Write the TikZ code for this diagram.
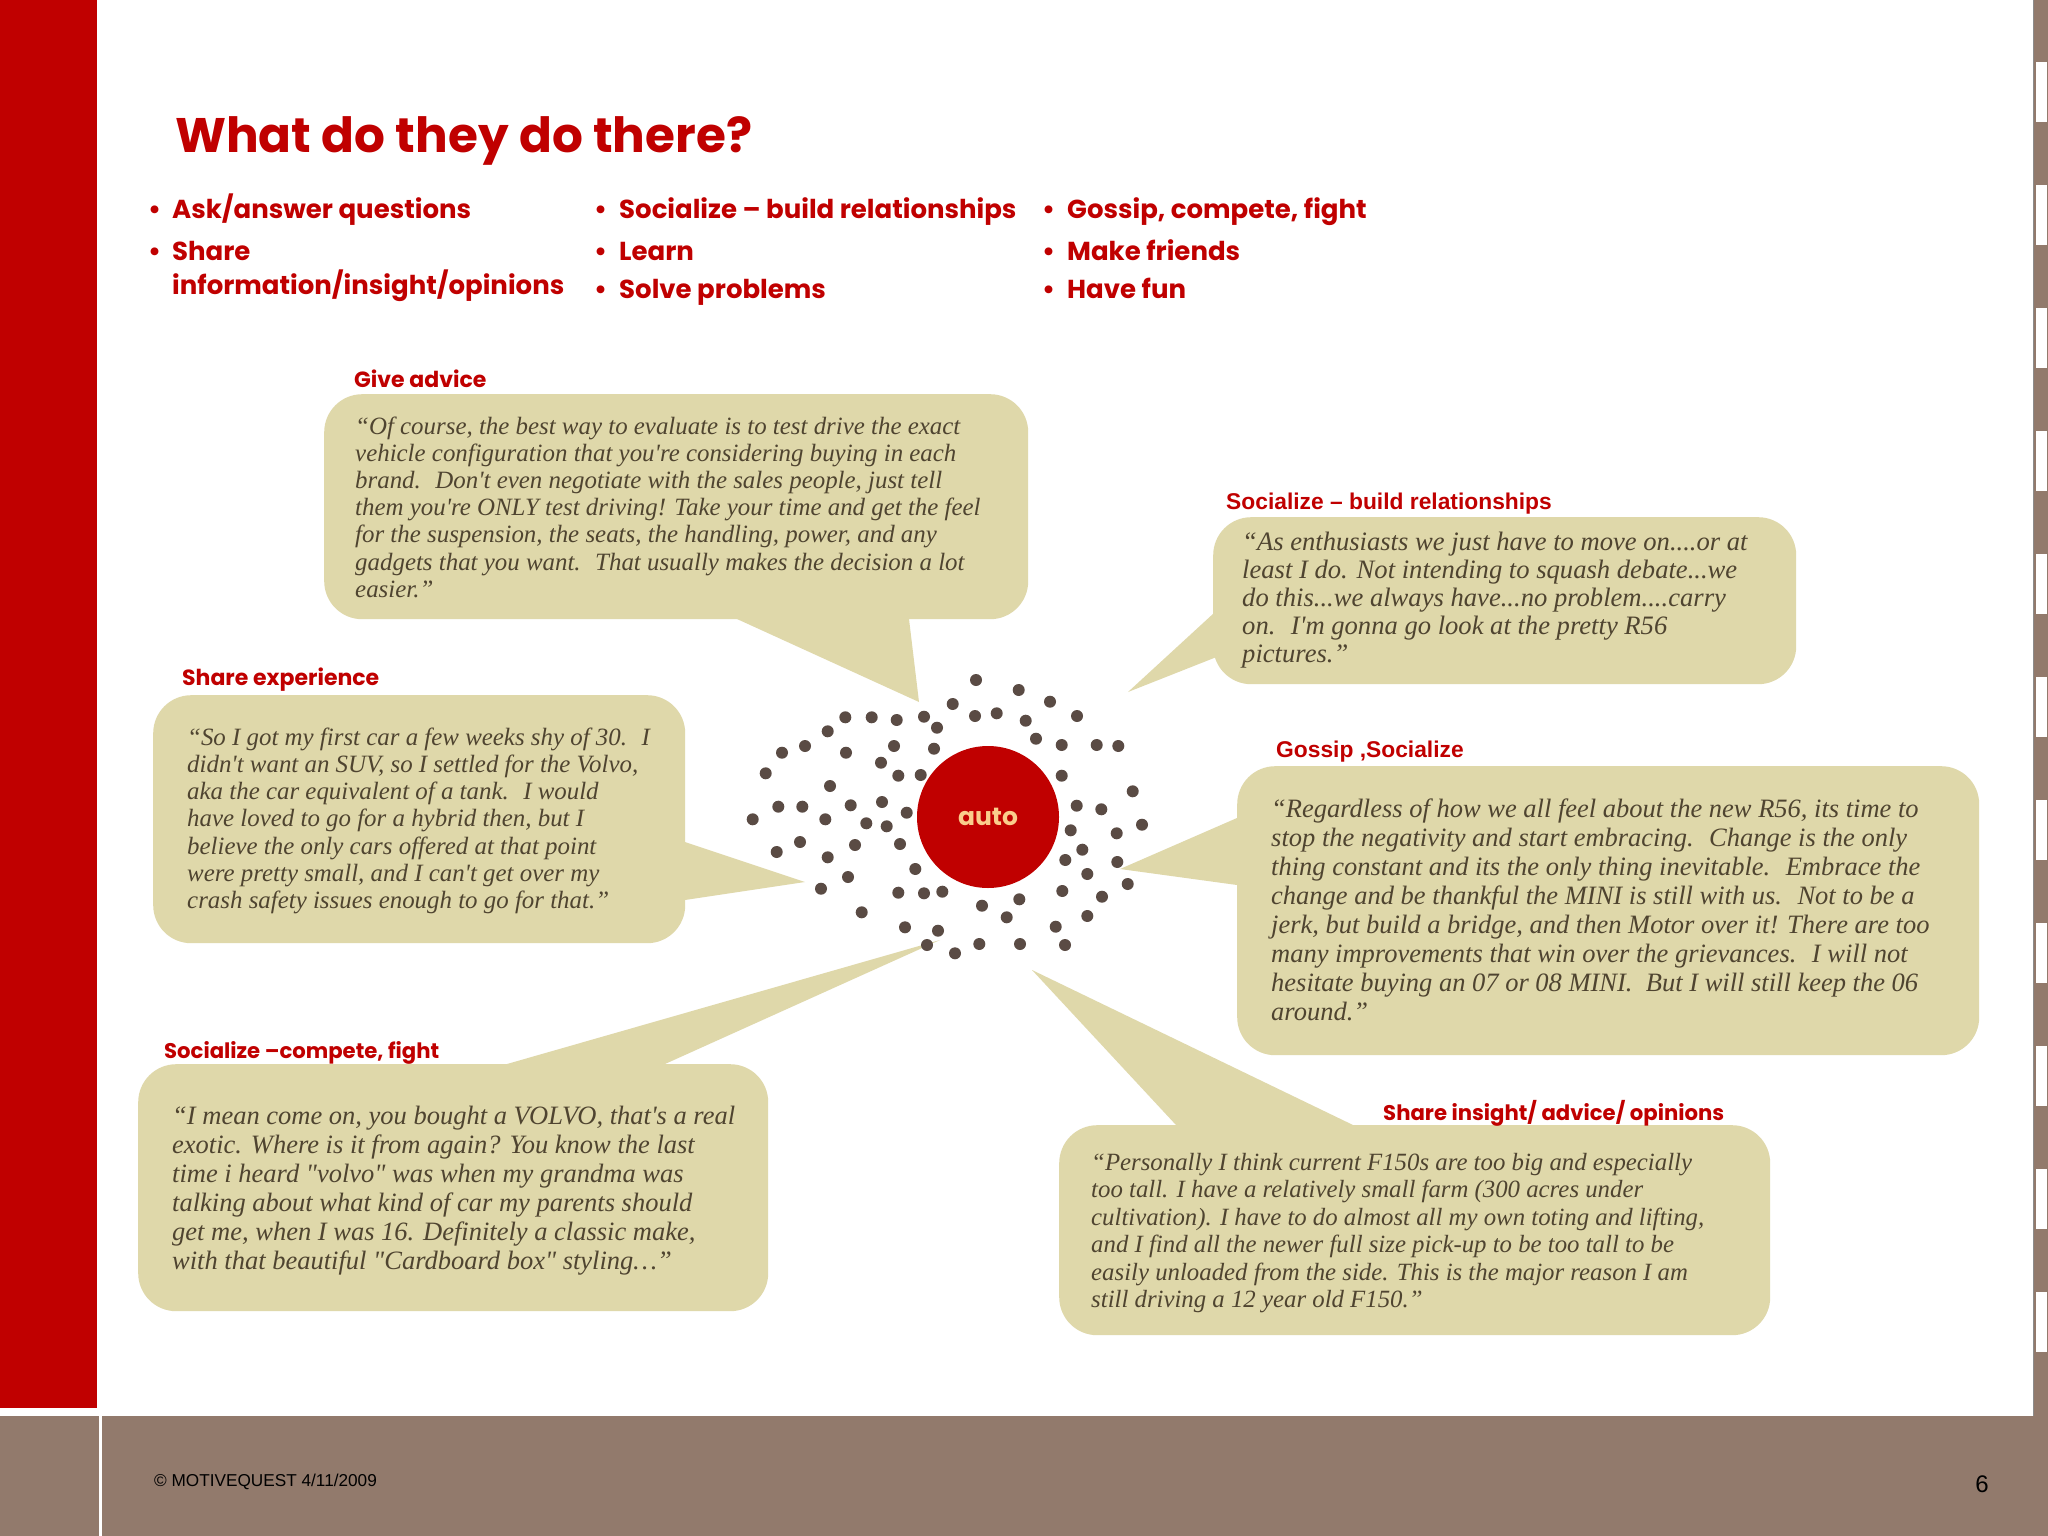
\documentclass[tikz,border=0pt]{standalone}
\usepackage{fontspec}
\usetikzlibrary{calc}
\setmainfont{Liberation Sans}
\newfontfamily\gothic{Poppins}
\newfontfamily\arialf{Liberation Sans}
\newfontfamily\qfont{Liberation Serif}
\definecolor{redc}{RGB}{192,0,0}
\definecolor{beige}{RGB}{223,216,170}
\definecolor{qcol}{RGB}{79,68,48}
\definecolor{dotc}{RGB}{90,75,68}
\definecolor{brownc}{RGB}{146,122,108}
\definecolor{autoc}{RGB}{250,205,140}
\tikzset{
  callout/.style={fill=beige, rounded corners=38pt, inner sep=0pt, anchor=north west, draw=none},
  quote/.style={anchor=base west, inner sep=0pt, text=qcol},
  lbl/.style={anchor=base west, inner sep=0pt, text=redc},
  bul/.style={anchor=base west, inner sep=0pt, text=redc, font=\gothic\bfseries\fontsize{26}{31}\selectfont},
  dotn/.style={circle, fill=dotc, inner sep=0pt, minimum size=12pt, draw=none},
  ptr/.style={fill=beige},
}
\newcommand{\qtext}[3]{\fontsize{#1}{#2}\selectfont\begin{tabular}[t]{@{}l@{}}#3\end{tabular}}
\begin{document}
\begin{tikzpicture}[x=1pt,y=-1pt]
\useasboundingbox (0,0) rectangle (2048,1536);
\fill[white] (0,0) rectangle (2048,1536);
% frame
\fill[redc] (0,0) rectangle (97,1408);
\fill[brownc] (0,1416) rectangle (2048,1536);
\fill[white] (98.5,1416) rectangle (102,1536);
\fill[brownc] (2033,0) rectangle (2048,1416);
\draw[black!45, line width=0.8pt] (2033.4,0) -- (2033.4,1416);
\foreach \k in {0,...,10} { \fill[white] (2036,62+123*\k) rectangle (2047,122+123*\k); }
\node[anchor=base west, inner sep=0pt, font=\arialf\fontsize{17.2}{20}\selectfont] (copy) at (154,1486) {© MOTIVEQUEST 4/11/2009};
\node[anchor=base east, inner sep=0pt, font=\arialf\fontsize{24}{28}\selectfont] (pnum) at (1989,1492) {6};

% title and bullets
\node[anchor=base west, inner sep=0pt, text=redc, font=\gothic\bfseries\fontsize{48.5}{58}\selectfont] (title) at (175,153) {What do they do there?};
\node[bul] (b1d) at (148,218) {•};
\node[bul] (b1) at (172,218) {Ask/answer questions};
\node[bul] (b2d) at (148,260) {•};
\node[bul] (b2) at (172,260) {Share};
\node[bul] (b2b) at (172,294) {information/insight/opinions};
\node[bul] (b3d) at (594,218) {•};
\node[bul] (b3) at (619,218) {Socialize – build relationships};
\node[bul] (b4d) at (594,260) {•};
\node[bul] (b4) at (619,260) {Learn};
\node[bul] (b5d) at (594,298) {•};
\node[bul] (b5) at (619,298) {Solve problems};
\node[bul] (b6d) at (1042,218) {•};
\node[bul] (b6) at (1067,218) {Gossip, compete, fight};
\node[bul] (b7d) at (1042,260) {•};
\node[bul] (b7) at (1067,260) {Make friends};
\node[bul] (b8d) at (1042,298) {•};
\node[bul] (b8) at (1067,298) {Have fun};

% tips
\coordinate (tipA) at (919,702);
\coordinate (tipB) at (1128,692);
\coordinate (tipC) at (805,882);
\coordinate (tipD) at (1120,869);
\coordinate (tipE) at (940,940);
\coordinate (tipF) at (1032,970);

% pointers (bases on the box edges, extended into the box)
\fill[ptr] ($(tipA)!1.2!(737,619)$) -- (tipA) -- ($(tipA)!1.2!(909,619)$) -- cycle;
\fill[ptr] ($(tipB)!1.25!(1214,613)$) -- (tipB) -- ($(tipB)!1.25!(1214,658)$) -- cycle;
\fill[ptr] ($(tipC)!1.2!(685,842)$) -- (tipC) -- ($(tipC)!1.2!(685,900)$) -- cycle;
\fill[ptr] ($(tipD)!1.2!(1237,818)$) -- (tipD) -- ($(tipD)!1.2!(1237,885)$) -- cycle;
\fill[ptr] ($(tipE)!1.1!(507,1064)$) -- (tipE) -- ($(tipE)!1.1!(665,1064)$) -- cycle;
\fill[ptr] ($(tipF)!1.1!(1176,1125)$) -- (tipF) -- ($(tipF)!1.1!(1353,1125)$) -- cycle;

% boxes
\node[callout, minimum width=704pt, minimum height=225pt] (boxA) at (324,394) {};
\node[callout, minimum width=583pt, minimum height=167pt] (boxB) at (1213,517) {};
\node[callout, minimum width=532pt, minimum height=248pt] (boxC) at (153,695) {};
\node[callout, minimum width=742pt, minimum height=289pt] (boxD) at (1237,766) {};
\node[callout, minimum width=630pt, minimum height=247pt] (boxE) at (138,1064) {};
\node[callout, minimum width=711pt, minimum height=210pt] (boxF) at (1059,1125) {};

% labels
\node[lbl, font=\gothic\bfseries\fontsize{22}{25}\selectfont] (labA) at (354,387) {Give advice};
\node[lbl, font=\arialf\bfseries\fontsize{22.8}{26}\selectfont] (labB) at (1226,509) {Socialize – build relationships};
\node[lbl, font=\gothic\bfseries\fontsize{22}{25}\selectfont] (labC) at (182,685) {Share experience};
\node[lbl, font=\arialf\bfseries\fontsize{22.8}{26}\selectfont] (labD) at (1276,757) {Gossip ,Socialize};
\node[lbl, font=\gothic\bfseries\fontsize{21.2}{25}\selectfont] (labE) at (164,1058) {Socialize –compete, fight};
\node[lbl, font=\gothic\bfseries\fontsize{21.2}{25}\selectfont] (labF) at (1383,1120) {Share insight/ advice/ opinions};

% quotes
\node[quote, font=\qfont\itshape] (qA) at (355,434) {\qtext{24.9}{27.2}{%
“Of course, the best way to evaluate is to test drive the exact\\
vehicle configuration that you're considering buying in each\\
brand. \ Don't even negotiate with the sales people, just tell\\
them you're ONLY test driving! Take your time and get the feel\\
for the suspension, the seats, the handling, power, and any\\
gadgets that you want. \ That usually makes the decision a lot\\
easier.”}};
\node[quote, font=\qfont\itshape] (qB) at (1242,550) {\qtext{26.6}{28}{%
“As enthusiasts we just have to move on....or at\\
least I do. Not intending to squash debate...we\\
do this...we always have...no problem....carry\\
on. \ I'm gonna go look at the pretty R56\\
pictures.”}};
\node[quote, font=\qfont\itshape] (qC) at (187,745) {\qtext{24.9}{27.3}{%
“So I got my first car a few weeks shy of 30. \ I\\
didn't want an SUV, so I settled for the Volvo,\\
aka the car equivalent of a tank. \ I would\\
have loved to go for a hybrid then, but I\\
believe the only cars offered at that point\\
were pretty small, and I can't get over my\\
crash safety issues enough to go for that.”}};
\node[quote, font=\qfont\itshape] (qD) at (1271,817) {\qtext{26.5}{29}{%
“Regardless of how we all feel about the new R56, its time to\\
stop the negativity and start embracing. \ Change is the only\\
thing constant and its the only thing inevitable. \ Embrace the\\
change and be thankful the MINI is still with us. \ Not to be a\\
jerk, but build a bridge, and then Motor over it! There are too\\
many improvements that win over the grievances. \ I will not\\
hesitate buying an 07 or 08 MINI. \ But I will still keep the 06\\
around.”}};
\node[quote, font=\qfont\itshape] (qE) at (172,1124) {\qtext{26.5}{29}{%
“I mean come on, you bought a VOLVO, that's a real\\
exotic. Where is it from again? You know the last\\
time i heard "volvo" was when my grandma was\\
talking about what kind of car my parents should\\
get me, when I was 16. Definitely a classic make,\\
with that beautiful "Cardboard box" styling…”}};
\node[quote, font=\qfont\itshape] (qF) at (1091,1170) {\qtext{24.8}{27.5}{%
“Personally I think current F150s are too big and especially\\
too tall. I have a relatively small farm (300 acres under\\
cultivation). I have to do almost all my own toting and lifting,\\
and I find all the newer full size pick-up to be too tall to be\\
easily unloaded from the side. This is the major reason I am\\
still driving a 12 year old F150.”}};

% center
\node[circle, fill=redc, minimum size=142pt, inner sep=0pt, text=autoc, font=\gothic\bfseries\fontsize{25}{30}\selectfont] (auto) at (988,817) {auto};
\foreach \px/\py [count=\i] in {976.0/680.0, 1018.7/690.0, 1050.0/701.7, 952.7/704.0, 1077.0/716.0, 845.3/717.3, 871.7/717.3, 896.7/720.0, 924.0/716.7, 975.0/716.0, 996.7/713.3, 1025.7/720.7, 937.0/727.7, 827.7/731.3, 1036.0/738.7, 805.0/746.0, 894.0/746.0, 934.0/748.7, 1061.7/745.0, 1096.7/745.0, 1118.3/746.0, 782.0/752.7, 846.0/752.7, 881.0/762.7, 765.7/773.3, 898.3/775.7, 920.7/775.0, 1061.7/775.7, 830.0/786.0, 1132.7/791.3, 778.3/806.7, 802.3/806.7, 850.7/805.3, 882.0/802.0, 1076.7/805.7, 1101.3/809.3, 752.7/819.3, 825.3/819.3, 906.7/812.7, 866.3/823.3, 886.7/826.3, 1142.0/824.7, 1070.7/830.3, 1116.7/833.3, 800.0/842.0, 855.0/845.0, 900.0/844.0, 776.7/852.0, 827.7/857.3, 1082.3/849.7, 1065.3/860.0, 1117.3/862.0, 915.3/869.0, 848.0/877.0, 1087.3/874.0, 821.0/888.7, 898.3/892.7, 924.0/893.3, 942.3/891.7, 1062.3/891.0, 1127.7/884.0, 982.0/905.7, 1019.3/899.3, 1102.0/896.7, 861.7/912.3, 1006.7/917.3, 1087.3/916.0, 905.0/927.3, 938.0/930.7, 1055.7/926.7, 927.0/945.0, 955.0/953.3, 979.3/944.0, 1020.0/944.0, 1065.0/945.0}
  { \node[dotn] (d\i) at (\px,\py) {}; }
\end{tikzpicture}
\end{document}
